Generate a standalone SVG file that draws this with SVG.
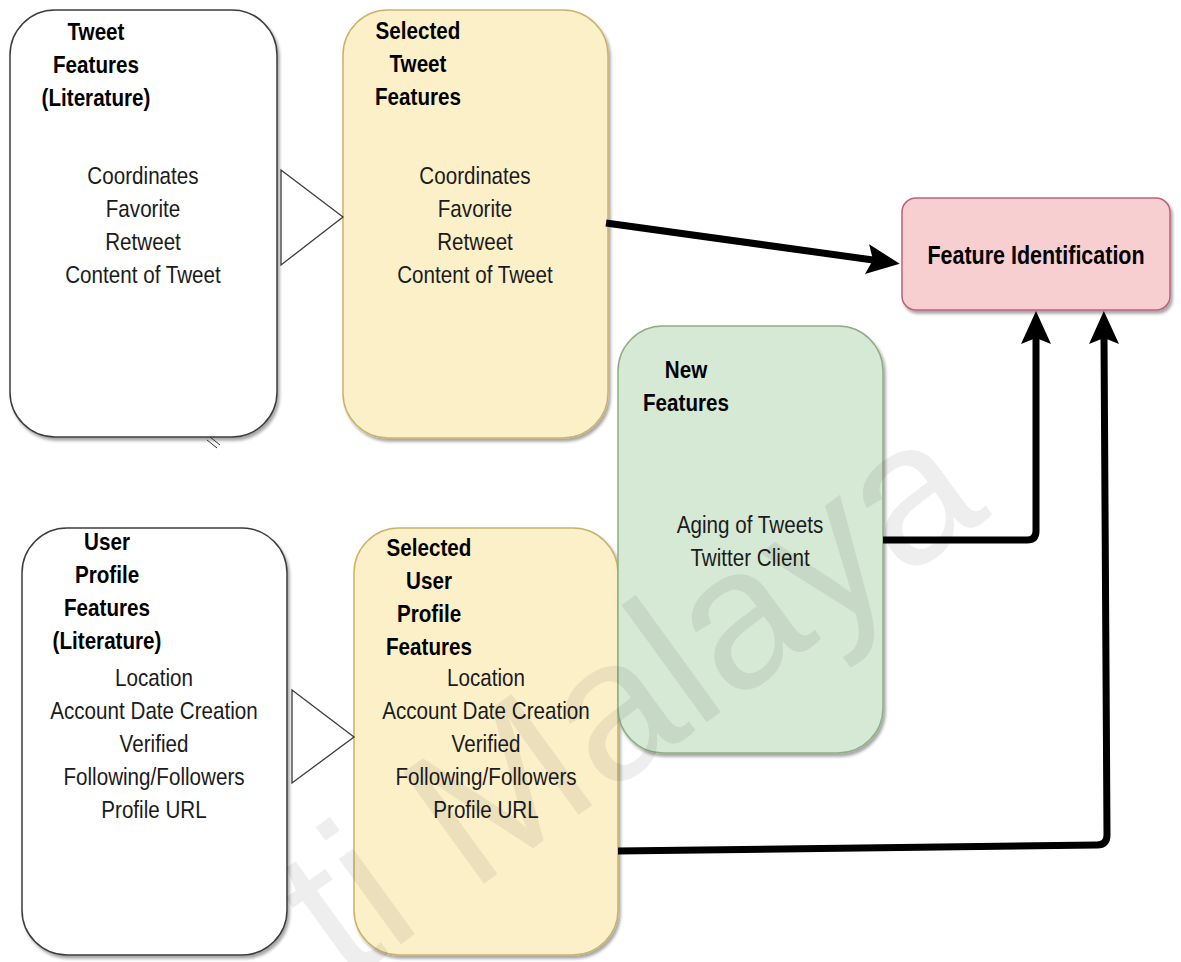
<svg xmlns="http://www.w3.org/2000/svg" width="1181" height="962" viewBox="0 0 1181 962">
  <defs>
    <style>
      .plain { fill: #ffffff; stroke: #3c3c3c; stroke-width: 1.5; }
      .sel   { fill: #fcf0c9; stroke: #c9b36a; stroke-width: 1.5; }
      .new   { fill: #d6e9d5; stroke: #8fae80; stroke-width: 1.5; }
      .goal  { fill: #f8cfd0; stroke: #c0607a; stroke-width: 1.5; }
      .t  { font-family: "Liberation Sans", Arial, sans-serif; font-size: 24px; fill: #1b1b1b; text-anchor: middle; }
      .h  { font-weight: bold; fill: #000000; }
      .edge { fill: none; stroke: #000000; stroke-width: 7; stroke-linejoin: round; }
      .tri  { fill: #ffffff; stroke: #3c3c3c; stroke-width: 1.3; }
      .mark { font-family: "Liberation Sans", Arial, sans-serif; font-size: 200px; fill: #000000; fill-opacity: 0.065; }
    </style>
    <filter id="shadow" x="-10%" y="-10%" width="125%" height="125%">
      <feDropShadow dx="2" dy="3" stdDeviation="1.5" flood-color="#000000" flood-opacity="0.35"/>
    </filter>
    <marker id="arrow" markerUnits="userSpaceOnUse" viewBox="-2 -17 37 34" markerWidth="37" markerHeight="34" refX="6" refY="0" orient="auto">
      <path d="M0,-15 L33,0 L0,15 L6,0 Z" fill="#000000"/>
    </marker>
  </defs>

  <rect width="1181" height="962" fill="#ffffff"/>

  <!-- Tweet features from literature -->
  <g id="tweet-literature">
    <rect class="plain" x="10" y="10" width="267" height="427" rx="45" filter="url(#shadow)"/>
    <g transform="translate(96 0) scale(0.86 1)">
      <text class="t h" x="0" y="40">Tweet</text>
      <text class="t h" x="0" y="73">Features</text>
      <text class="t h" x="0" y="106">(Literature)</text>
    </g>
    <g transform="translate(143 0) scale(0.86 1)">
      <text class="t" x="0" y="184">Coordinates</text>
      <text class="t" x="0" y="217">Favorite</text>
      <text class="t" x="0" y="250">Retweet</text>
      <text class="t" x="0" y="283">Content of Tweet</text>
    </g>
    <line x1="207" y1="440" x2="217" y2="448" stroke="#333333" stroke-width="1"/>
    <line x1="210" y1="437" x2="220" y2="445" stroke="#333333" stroke-width="1"/>
  </g>

  <!-- Selected tweet features -->
  <g id="selected-tweet">
    <rect class="sel" x="343" y="10" width="265" height="428" rx="45" filter="url(#shadow)"/>
    <g transform="translate(418 0) scale(0.86 1)">
      <text class="t h" x="0" y="39">Selected</text>
      <text class="t h" x="0" y="72">Tweet</text>
      <text class="t h" x="0" y="105">Features</text>
    </g>
    <g transform="translate(475 0) scale(0.86 1)">
      <text class="t" x="0" y="184">Coordinates</text>
      <text class="t" x="0" y="217">Favorite</text>
      <text class="t" x="0" y="250">Retweet</text>
      <text class="t" x="0" y="283">Content of Tweet</text>
    </g>
  </g>

  <!-- User profile features from literature -->
  <g id="profile-literature">
    <rect class="plain" x="22" y="528" width="265" height="427" rx="45" filter="url(#shadow)"/>
    <g transform="translate(107 0) scale(0.86 1)">
      <text class="t h" x="0" y="550">User</text>
      <text class="t h" x="0" y="583">Profile</text>
      <text class="t h" x="0" y="616">Features</text>
      <text class="t h" x="0" y="649">(Literature)</text>
    </g>
    <g transform="translate(154 0) scale(0.86 1)">
      <text class="t" x="0" y="686">Location</text>
      <text class="t" x="0" y="719">Account Date Creation</text>
      <text class="t" x="0" y="752">Verified</text>
      <text class="t" x="0" y="785">Following/Followers</text>
      <text class="t" x="0" y="818">Profile URL</text>
    </g>
  </g>

  <!-- Selected user profile features -->
  <g id="selected-profile">
    <rect class="sel" x="354" y="528" width="264" height="427" rx="45" filter="url(#shadow)"/>
    <g transform="translate(429 0) scale(0.86 1)">
      <text class="t h" x="0" y="556">Selected</text>
      <text class="t h" x="0" y="589">User</text>
      <text class="t h" x="0" y="622">Profile</text>
      <text class="t h" x="0" y="655">Features</text>
    </g>
    <g transform="translate(486 0) scale(0.86 1)">
      <text class="t" x="0" y="686">Location</text>
      <text class="t" x="0" y="719">Account Date Creation</text>
      <text class="t" x="0" y="752">Verified</text>
      <text class="t" x="0" y="785">Following/Followers</text>
      <text class="t" x="0" y="818">Profile URL</text>
    </g>
  </g>

  <!-- New features -->
  <g id="new-features">
    <rect class="new" x="618" y="326" width="265" height="427" rx="45" filter="url(#shadow)"/>
    <g transform="translate(686 0) scale(0.86 1)">
      <text class="t h" x="0" y="378">New</text>
      <text class="t h" x="0" y="411">Features</text>
    </g>
    <g transform="translate(750 0) scale(0.86 1)">
      <text class="t" x="0" y="533">Aging of Tweets</text>
      <text class="t" x="0" y="566">Twitter Client</text>
    </g>
  </g>

  <!-- Feature identification -->
  <g id="feature-identification">
    <rect class="goal" x="902" y="198" width="268" height="112" rx="14" filter="url(#shadow)"/>
    <g transform="translate(1036 0) scale(0.86 1)">
      <text class="t h" x="0" y="264" style="font-size:25px">Feature Identification</text>
    </g>
  </g>

  <!-- Connectors -->
  <g id="connectors">
    <polygon class="tri" points="281,170 343,217 281,265"/>
    <polygon class="tri" points="292,690 354,737 292,783"/>
    <path class="edge" d="M606,223 L873,260" marker-end="url(#arrow)"/>
    <path class="edge" d="M883,540 L1027,540 Q1036,540 1036,531 L1036,338" marker-end="url(#arrow)"/>
    <path class="edge" d="M618,851 L1097,845 Q1107,845 1107,835 L1104,338" marker-end="url(#arrow)"/>
  </g>

  <!-- Faint background lettering -->
  <text class="mark" transform="translate(345 985) rotate(-36)" x="0" y="0">ti Malaya</text>
</svg>
